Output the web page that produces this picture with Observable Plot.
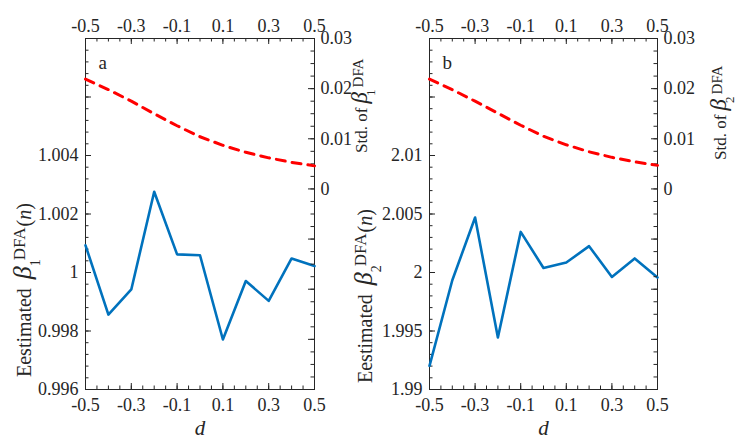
<!DOCTYPE html>
<html><head><meta charset="utf-8">
<script src="https://cdn.jsdelivr.net/npm/d3@7"></script>
<script src="https://cdn.jsdelivr.net/npm/@observablehq/plot@0.6"></script>
<style>
body{margin:0;background:#fff;}
#chart{position:relative;width:736px;height:438px;background:#fff;}
#chart svg{position:absolute;top:0;}
</style></head><body><div id="chart"></div>
<script>
// ---- data ----
const dValues = [-0.5, -0.4, -0.3, -0.2, -0.1, 0, 0.1, 0.2, 0.3, 0.4, 0.5];
const betaA = [1.00093, 0.99856, 0.99942, 1.00276, 1.00062, 1.00059, 0.99771, 0.99971, 0.99903, 1.00048, 1.00022];
const stdA  = [0.0219, 0.0198, 0.0175, 0.0150, 0.0126, 0.0104, 0.0087, 0.0073, 0.0062, 0.0053, 0.0046];
const betaB = [1.99202, 1.99934, 2.0047, 1.99444, 2.00347, 2.00039, 2.00085, 2.00225, 1.99962, 2.0012, 1.99957];
const stdB  = [0.0219, 0.0198, 0.0175, 0.0151, 0.0127, 0.0105, 0.0088, 0.0074, 0.0063, 0.0054, 0.0047];

const xTickLabels = [-0.5, -0.3, -0.1, 0.1, 0.3, 0.5];
const yTickLabelsA = [0.996, 0.998, 1, 1.002, 1.004];
const yTickLabelsB = [1.99, 1.995, 2, 2.005, 2.01];
const stdTickLabels = [0.03, 0.02, 0.01, 0];

// ---- layout / style ----
const W = 368, H = 438, MT = 38, MB = 49;
const FONT = "'Times New Roman','Liberation Serif',serif";
const INK = "#262626";
const style = {background: "none", overflow: "visible", fontFamily: FONT, fontSize: "18px", color: INK};

function steps(a, b, s) {
  const n = Math.round((b - a) / s);
  return d3.range(n + 1).map(i => +(a + i * s).toFixed(6));
}
const xMinor = steps(-0.5, 0.5, 0.05);
const stdMajor = steps(-0.04, 0.03, 0.01);
const stdMinor = steps(-0.04, 0.03, 0.0025);

function basePlot({ml, mr, yDomain, yLabels, yMajor, yMinor, values, letter}) {
  const fw = W - ml - mr, fh = H - MT - MB;
  return Plot.plot({
    width: W, height: H, marginLeft: ml, marginRight: mr, marginTop: MT, marginBottom: MB,
    style,
    x: {domain: [-0.5, 0.5]},
    y: {domain: yDomain},
    marks: [
      Plot.ruleX(xMinor, {x: d => d, insetTop: fh - 3.5, stroke: INK}),
      Plot.ruleX(xTickLabels, {x: d => d, insetTop: fh - 6, stroke: INK}),
      Plot.ruleX(xMinor, {x: d => d, insetBottom: fh - 3.5, stroke: INK}),
      Plot.ruleX(xTickLabels, {x: d => d, insetBottom: fh - 6, stroke: INK}),
      Plot.ruleY(yMinor, {y: d => d, insetRight: fw - 3.5, stroke: INK}),
      Plot.ruleY(yMajor, {y: d => d, insetRight: fw - 6, stroke: INK}),
      Plot.frame({stroke: INK}),
      Plot.axisX({anchor: "bottom", ticks: xTickLabels, tickSize: 0, tickPadding: 9, tickFormat: d => d.toFixed(1), label: null}),
      Plot.axisX({anchor: "top", ticks: xTickLabels, tickSize: 0, tickPadding: 7, tickFormat: d => d.toFixed(1), label: null}),
      Plot.axisY({anchor: "left", ticks: yLabels, tickSize: 0, tickPadding: 7, tickFormat: d => String(d), label: null}),
      Plot.line(values, {x: (d, i) => dValues[i], y: d => d, stroke: "#0072BD", strokeWidth: 2.6}),
      Plot.text([letter], {text: d => d, frameAnchor: "top-left", dx: 13, dy: 30, lineAnchor: "bottom", textAnchor: "start", fontSize: 19}),
      Plot.text(["d"], {text: d => d, frameAnchor: "bottom", dy: 45, lineAnchor: "bottom", fontStyle: "italic", fontSize: 21})
    ]
  });
}

function stdPlot({ml, mr, values}) {
  const fw = W - ml - mr;
  return Plot.plot({
    width: W, height: H, marginLeft: ml, marginRight: mr, marginTop: MT, marginBottom: MB,
    style,
    x: {domain: [-0.5, 0.5], axis: null},
    y: {domain: [-0.04, 0.03]},
    marks: [
      Plot.ruleY(stdMinor, {y: d => d, insetLeft: fw - 3.5, stroke: INK}),
      Plot.ruleY(stdMajor, {y: d => d, insetLeft: fw - 6, stroke: INK}),
      Plot.axisY({anchor: "right", ticks: stdTickLabels, tickSize: 0, tickPadding: 6, tickFormat: d => String(d), label: null}),
      Plot.line(values, {x: (d, i) => dValues[i], y: d => d, stroke: "#FF0000", strokeWidth: 3, strokeDasharray: "9,7"})
    ]
  });
}

// rotated axis title: lead text, italic beta, subscript, superscript "DFA", optional "(n)"
function rotLabel(svg, x, y, lead, sub, tail, o) {
  const t = d3.select(svg).append("text")
    .attr("transform", `translate(${x},${y}) rotate(-90)`)
    .attr("text-anchor", "start")
    .attr("fill", INK)
    .attr("font-family", FONT)
    .attr("font-size", o.size);
  t.append("tspan").text(lead);
  t.append("tspan").attr("font-style", "italic").attr("font-size", o.betaSize).attr("dx", o.betaDx).text("β");
  t.append("tspan").attr("font-size", o.subSize).attr("dx", o.subDx).attr("dy", o.subDy).text(sub);
  t.append("tspan").attr("font-size", o.supSize).attr("dx", o.supDx).attr("dy", -o.subDy + o.supDy).text("DFA");
  if (tail) {
    t.append("tspan").attr("dy", -o.supDy).attr("dx", 1).text("(");
    t.append("tspan").attr("font-style", "italic").text("n");
    t.append("tspan").text(")");
  }
}
const leftOpt = {size: 20, betaSize: 26, betaDx: 4, subSize: 14, subDx: 0, subDy: 9, supSize: 17, supDx: -1, supDy: -6};
const rightOpt = {size: 17, betaSize: 23, betaDx: 0, subSize: 13, subDx: -4, subDy: 8, supSize: 15, supDx: 2, supDy: -4};

const chart = document.getElementById("chart");
function place(svg, left) { svg.style.left = left + "px"; chart.appendChild(svg); return svg; }

// panel a
const aBase = place(basePlot({ml: 85, mr: 54, yDomain: [0.996, 1.008], yLabels: yTickLabelsA,
  yMajor: steps(0.996, 1.008, 0.002), yMinor: steps(0.996, 1.008, 0.0004), values: betaA, letter: "a"}), 0);
const aStd = place(stdPlot({ml: 85, mr: 54, values: stdA}), 0);
rotLabel(aBase, 31, 377, "Eestimated ", "1", true, leftOpt);
rotLabel(aStd, 367, 153, "Std. of ", "1", false, rightOpt);

// panel b
const bBase = place(basePlot({ml: 61, mr: 79, yDomain: [1.99, 2.02], yLabels: yTickLabelsB,
  yMajor: steps(1.99, 2.02, 0.005), yMinor: steps(1.99, 2.02, 0.001), values: betaB, letter: "b"}), 368);
const bStd = place(stdPlot({ml: 61, mr: 79, values: stdB}), 368);
rotLabel(bBase, 4, 383, "Eestimated ", "2", true, leftOpt);
rotLabel(bStd, 358, 160, "Std. of ", "2", false, rightOpt);
</script></body></html>
